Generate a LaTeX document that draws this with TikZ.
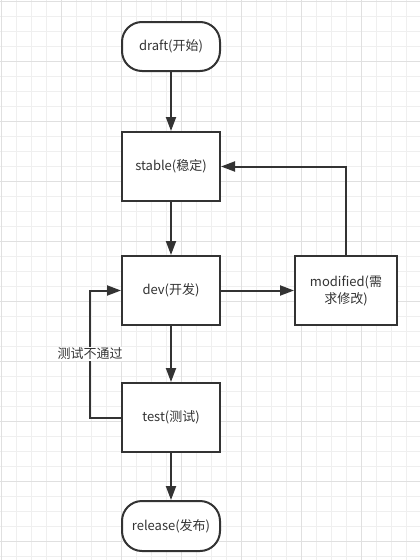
\documentclass[tikz,border=0pt]{standalone}
\usepackage{fontspec}
\setmainfont{Noto Sans CJK SC}
\usetikzlibrary{positioning,arrows.meta}
\definecolor{linegray}{HTML}{333333}
\definecolor{gridminor}{HTML}{EFEFEF}
\definecolor{gridmajor}{HTML}{E0E0E0}

\begin{document}
\begin{tikzpicture}[
x=1pt, y=-1pt,
font=\fontsize{13pt}{17pt}\selectfont,
state/.style={draw=linegray, line width=2pt, fill=white, text=linegray, rectangle, minimum width=98pt, minimum height=69pt, inner sep=2pt, align=center},
terminal/.style={state, rounded corners=20pt, minimum height=49pt},
flow/.style={draw=linegray, line width=2pt, -{Triangle[length=14pt,width=10pt]}},
]
\useasboundingbox (0,0) rectangle (420,560);
% grid paper
\foreach \gx in {1.5,16.5,...,420} \draw[gridminor, line width=1pt] (\gx,0) -- (\gx,560);
\foreach \gy in {1.5,16.5,...,560} \draw[gridminor, line width=1pt] (0,\gy) -- (420,\gy);
\foreach \gx in {1.5,61.5,...,420} \draw[gridmajor, line width=1pt] (\gx,0) -- (\gx,560);
\foreach \gy in {1.5,61.5,...,560} \draw[gridmajor, line width=1pt] (0,\gy) -- (420,\gy);

% main line
\node[terminal] (draft) at (171,46.5) {draft(开始)};
\node[state, below=59pt of draft] (stable) {stable(稳定)};
\draw[flow] (draft) -- (stable);
\node[state, below=53pt of stable] (dev) {dev(开发)};
\draw[flow] (stable) -- (dev);
\node[state, below=56pt of dev] (test) {test(测试)};
\draw[flow] (dev) -- (test);
\node[terminal, below=47pt of test, minimum height=50pt] (release) {release(发布)};
\draw[flow] (test) -- (release);

% change of requirements
\node[state, right=73pt of dev, minimum width=102pt] (modified) {modified(需\\求修改)};
\draw[flow] (dev) -- (modified);
\draw[flow] (modified.north) |- (stable.east);

% failed test goes back to dev
\draw[flow] (test.west) -- ++(-31pt,0) |- node[pos=0.25, fill=white, text=linegray, inner sep=1pt] {测试不通过} (dev.west);
\end{tikzpicture}
\end{document}
